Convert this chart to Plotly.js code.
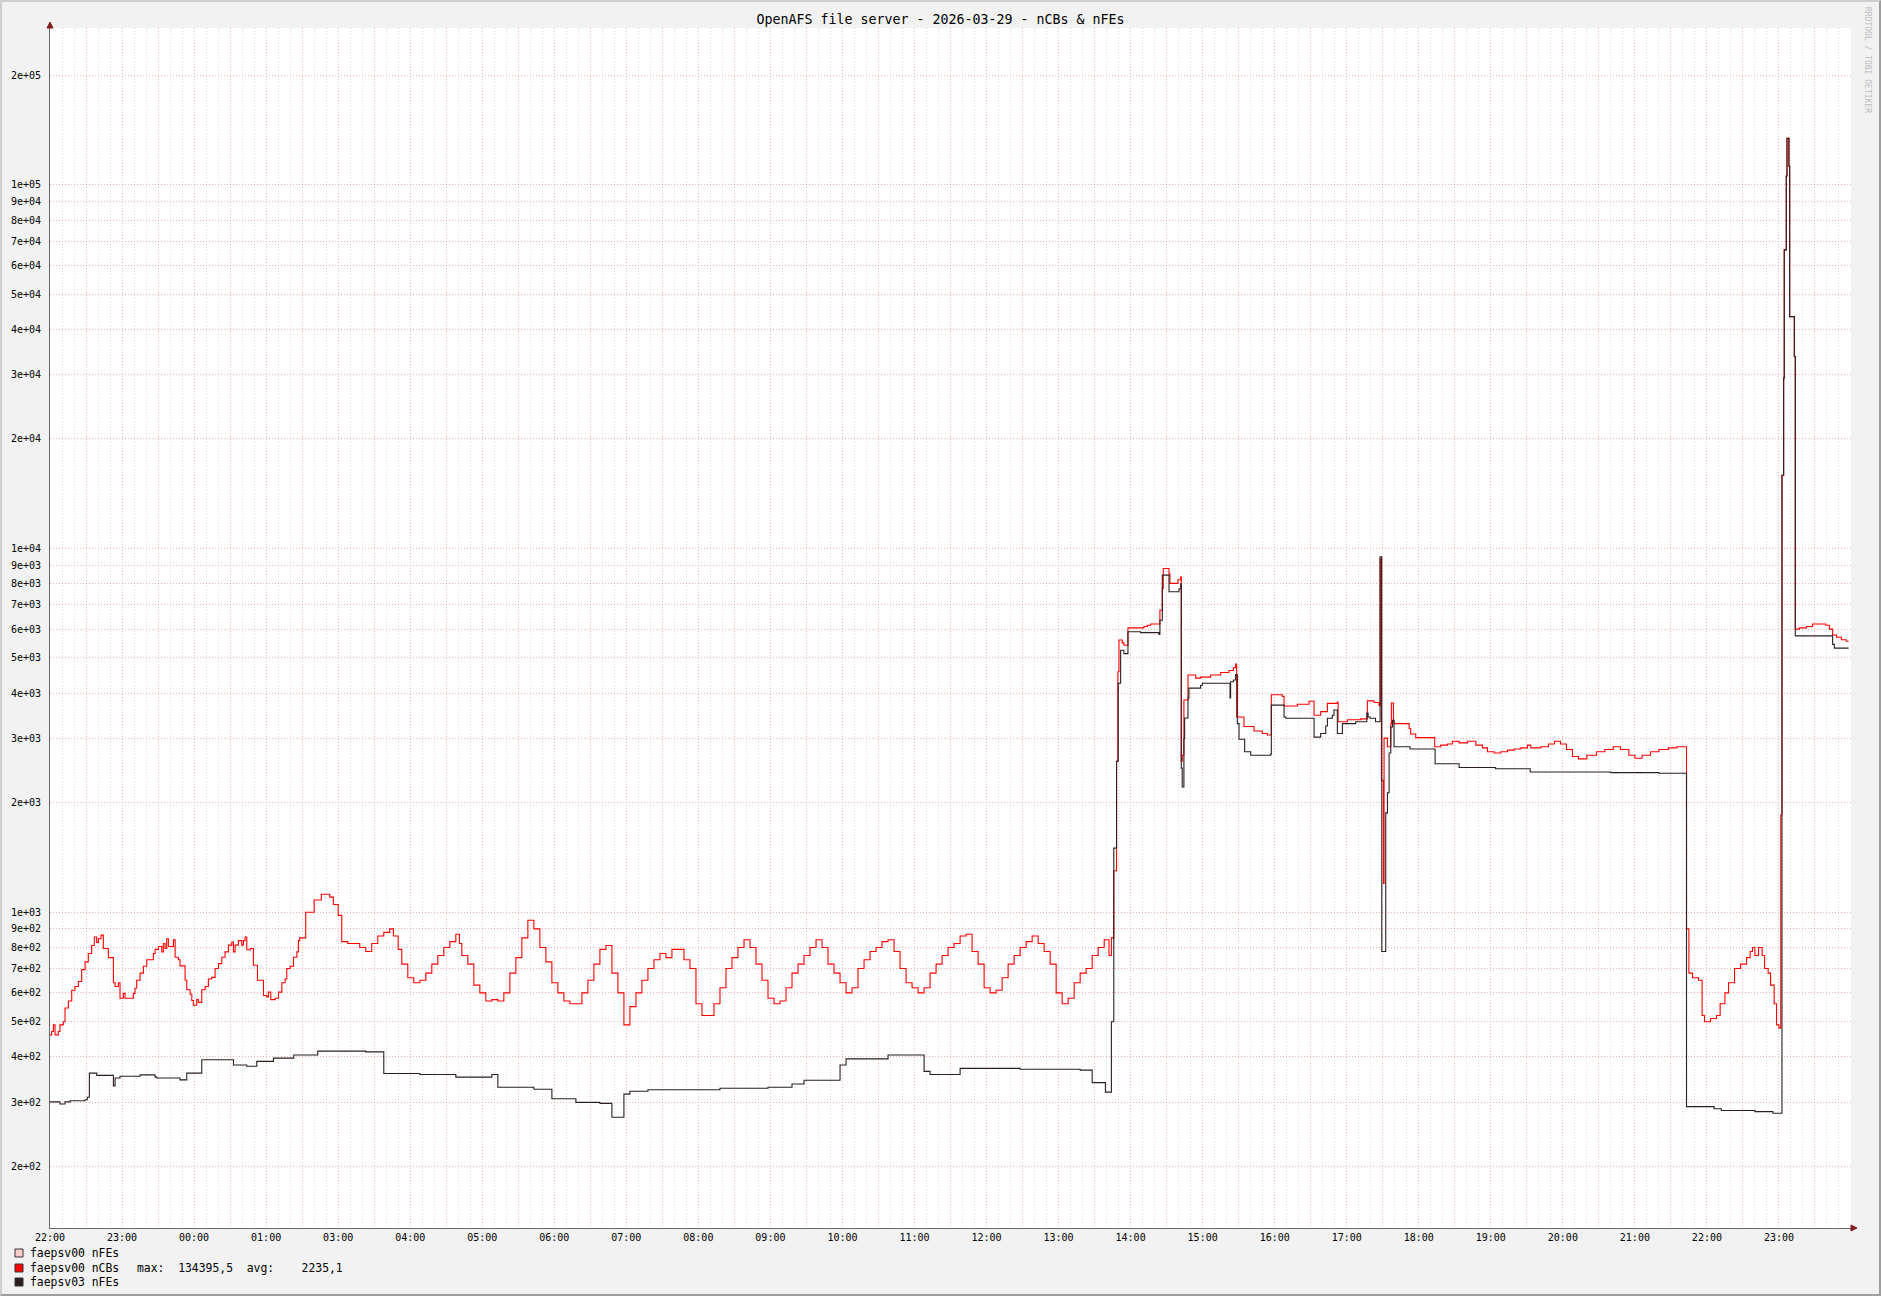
<!DOCTYPE html>
<html><head><meta charset="utf-8">
<script src="https://cdn.plot.ly/plotly-3.0.1.min.js"></script>
<style>
html,body{margin:0;padding:0;background:#f2f2f2;overflow:hidden}
#chart{position:absolute;left:0;top:0;width:1881px;height:1296px}
#frame{position:absolute;left:0;top:0;width:1881px;height:1296px;box-sizing:border-box;border-top:2px solid #cfcfcf;border-left:2px solid #cfcfcf;border-right:2px solid #9e9e9e;border-bottom:2px solid #9e9e9e;pointer-events:none}
</style></head>
<body><div id="chart"></div><div id="frame"></div>
<script>
// ---- data: time in minutes since 22:00 (2026-03-28 CET), values ----
const redT = [0,1.4,2.8,4.2,6.9,8.3,11.1,12.5,15.3,18.1,20.8,23.6,26.4,29.2,31.9,34.7,36.9,38.9,40.3,42.5,44.4,48.6,52.8,54.2,56.9,58.3,61.1,62.5,69.4,70.8,72.2,75,77.8,80.6,86.1,87.5,90.3,93.1,94.4,95.8,97.2,98.6,102.8,104.2,106.9,108.3,112.5,113.9,116.7,118.1,119.4,122.2,123.6,126.4,129.2,131.9,134.7,137.5,140.3,143.1,145.8,148.6,151.4,152.8,154.2,156.9,159.7,161.1,162.5,163.9,166.7,169.4,172.8,177.8,180.6,181.9,183.9,187.5,190.3,193.1,195.8,197.2,200,202.8,205.6,206.9,
208,213,220,226,233,236,240,243,248,258,263,268,273,278,283,286,290,293,298,303,308,313,318,323,328,333,338,341,343,348,353,358,363,368,373,378,383,388,393,398,403,408,413,418,423,428,433,438,443,448,453,458,463,468,473,478,483,488,493,498,503,508,513,518,523,528,533,538,543,548,553,558,563,568,573,578,583,588,593,598,603,608,613,618,623,628,633,638,643,648,653,658,663,668,673,678,683,688,693,698,703,708,713,718,723,728,733,738,743,748,753,758,763,768,773,778,783,788,793,798,803,808,813,818,823,828,833,838,843,848,853,858,863,868,873,878,882,884,886,
888.3,889.4,890.3,893,894.4,897.8,911.1,913.9,916.7,924.4,926.4,927.2,932,932.8,939.4,941.7,942.2,943,944.4,947.8,954.2,958.3,966.7,975,981.9,985.6,987.5,988.3,994.4,1002.8,1009.7,1013.9,1017.2,1026.4,1027.8,1038.9,1048.6,1052.8,1058.3,1063.9,1072.2,1072.8,1080.6,1091.7,1097.2,1102.8,1106.9,1107.8,1108.9,1110.6,1111.1,1113.9,1116.7,1117.2,1118.9,1119.4,1132,1133.3,1137.5,1153.3,1158.3,1163.9,1168,1173.6,1180.6,1187.5,1193,1197.2,1202.8,1208.3,1213.9,1219.4,1225,1230.6,1233.3,1241.7,1248,1253,1258,1263,1268,1273,1280,1288,1295,1302,1308,1315,1320,1326,1333,1340,1348,1355,1361,
1363,1365,1368,1373,1376,1378,1383,1388,1391,1395,1398,1403,1408,1413,1416,1418,1420,1423,1426,1428,1431,1433,1436,1438,1440,1441.5,1442.5,1443.9,1444.4,1446.1,1446.7,1448.3,1448.9,1452.8,1453.6,1457,1463,1468,1475,1479,1482,1484.7,1488,1492,1496,1498];
const redV = [460,470,490,460,470,490,500,545,570,610,625,645,695,730,770,810,855,825,845,865,795,750,640,625,640,580,598,580,598,618,650,680,710,740,770,790,805,778,820,795,845,805,840,752,740,712,650,612,595,572,555,575,565,612,625,655,662,700,722,752,778,812,828,778,812,835,812,835,855,788,795,715,650,590,585,603,575,580,603,640,655,700,710,752,778,835,
850,1000,1080,1120,1100,1050,980,830,820,800,780,820,860,880,900,860,790,720,660,640,650,680,720,760,800,830,870,820,760,720,630,600,570,575,570,600,680,750,850,950,900,800,730,640,600,570,560,560,600,650,720,790,810,680,600,490,550,600,650,700,740,770,750,790,790,740,700,560,520,520,560,620,700,750,800,840,800,720,650,580,560,570,620,680,720,760,800,840,800,720,680,640,600,620,700,740,780,800,830,840,780,700,640,620,600,620,680,720,760,800,820,860,870,780,720,620,600,610,660,720,760,800,830,860,820,780,720,600,560,580,640,680,700,760,800,840,760,850,1300,
2600,4580,5600,5500,5420,6050,6100,6150,6200,6760,7770,8810,8500,8020,8200,8360,2600,2700,3830,4490,4400,4430,4490,4560,4620,4700,4810,3440,3240,3150,3100,3070,3960,3920,3690,3730,3800,3480,3560,3750,3780,3340,3380,3400,3810,3770,3700,9380,2300,1200,3010,2850,3300,3760,3350,3300,3200,3090,3020,2850,2880,2900,2950,2920,2950,2880,2830,2760,2740,2760,2790,2810,2830,2880,2830,2850,2900,2950,2900,2800,2680,2640,2700,2760,2800,2850,2800,2700,2650,2700,2760,2800,2830,2850,2850,
900,680,660,650,520,500,510,520,560,600,640,700,720,750,780,800,760,800,760,700,680,630,560,490,480,1850,15900,29400,66200,105700,134395.5,112400,43400,33700,6000,6050,6100,6200,6200,6150,6000,5780,5700,5610,5560,5560];

const blkT = [0,8.3,12.5,16.7,29.2,31.1,32.8,38.9,52.8,54.2,58.3,75,87.5,88.9,108.3,113.9,126.4,152.8,163.9,172.2,186.1,203,223,263,278,308,338,368,373,403,418,438,458,468,478,483,498,558,598,618,628,658,663,698,728,733,758,808,858,868,879,884,886,
888.3,889.7,891.7,894.4,897.8,908.3,923.6,924.4,926.4,932,940.3,941.7,942.2,943,944.4,945,947.8,948.6,958.3,959.7,982.8,983.3,985.6,987.5,988.9,990.3,995,1000,1016.7,1017.2,1027.8,1029.2,1052.8,1058.3,1062.5,1063.9,1068,1069.4,1072.2,1076.4,1087.5,1096.7,1097.8,1099.4,1104,1107.8,1109.2,1112.5,1113.9,1115.3,1116.7,1118.1,1119.4,1132.8,1153.6,1173.6,1204,1232.8,1300,1340,
1363,1386,1392,1420,1435,1442.5,1443.9,1444.4,1446.1,1446.7,1448.3,1448.9,1452.8,1453.6,1484.7,1486.1,1498];
const blkV = [301,297,301,303,305,310,361,356,333,350,354,357,352,350,346,361,393,380,377,389,397,405,415,413,360,358,352,358,330,326,307,300,298,273,316,322,325,328,330,337,345,380,395,405,365,358,372,370,368,340,320,500,1500,
2600,4260,5250,5140,5900,5870,5800,6350,8450,7600,7750,8000,2490,2210,3000,3420,3880,4130,4200,4260,3880,4300,4350,4500,3300,2990,2760,2700,2720,3710,3440,3415,3030,3100,3250,3415,3480,3595,3100,3300,3340,3530,3440,3415,3340,9490,780,1875,2130,2740,3230,3370,2850,2810,2560,2500,2480,2430,2420,2410,
292,288,285,283,280,15900,29400,66200,105700,134000,112400,43400,33700,5750,5450,5320,5320];

// ---- axis labels ----
const hourLabels = ['22:00','23:00','00:00','01:00','03:00','04:00','05:00','06:00','07:00','08:00','09:00','10:00','11:00','12:00','13:00','14:00','15:00','16:00','17:00','18:00','19:00','20:00','21:00','22:00','23:00'];
const yTickVals = [200,300,400,500,600,700,800,900,1000,2000,3000,4000,5000,6000,7000,8000,9000,10000,20000,30000,40000,50000,60000,70000,80000,90000,100000,200000];
const yTickText = ['2e+02','3e+02','4e+02','5e+02','6e+02','7e+02','8e+02','9e+02','1e+03','2e+03','3e+03','4e+03','5e+03','6e+03','7e+03','8e+03','9e+03','1e+04','2e+04','3e+04','4e+04','5e+04','6e+04','7e+04','8e+04','9e+04','1e+05','2e+05'];

const legendNames = ['faepsv00 nFEs','faepsv00 nCBs','faepsv03 nFEs'];
const legendColors = ['#ffcccc','#ff0000','#2b1f1f'];
const statsText = 'max:  134395,5  avg:    2235,1';
const titleText = 'OpenAFS file server - 2026-03-29 - nCBs & nFEs';
const watermark = 'RRDTOOL / TOBI OETIKER';

// ---- layout geometry ----
const W = 1881, H = 1296;
const PL = 50, PR = 1851, PT = 28, PB = 1228;
const px = x => (x - PL) / (PR - PL);
const py = y => (PB - y) / (PB - PT);
const MONO = 'DejaVu Sans Mono, monospace';

const xTickVals = [], xTickText = [];
for (let m = 0; m < 1500; m += 30) {
  xTickVals.push(m);
  xTickText.push(m % 60 === 0 ? hourLabels[m / 60] : '');
}
const xMinor = [];
for (let m = 10; m < 1500; m += 10) if (m % 30 !== 0) xMinor.push(m);

const nb = s => s.replace(/ /g, '\u00a0');

const traces = [
  {x: redT, y: redV, type: 'scatter', mode: 'lines', line: {color: '#ff0000', width: 1.1, shape: 'hv'}, name: legendNames[1], hoverinfo: 'skip'},
  {x: blkT, y: blkV, type: 'scatter', mode: 'lines', line: {color: legendColors[2], width: 1.1, shape: 'hv'}, name: legendNames[2], hoverinfo: 'skip'}
];

const annotations = [];
const shapes = [];
const legY = [1253, 1268, 1282];
legendNames.forEach((n, i) => {
  shapes.push({type: 'rect', xref: 'paper', yref: 'paper',
    x0: px(15), x1: px(23), y0: py(legY[i] - 4), y1: py(legY[i] + 4),
    fillcolor: legendColors[i], line: {color: '#333', width: 1}});
  annotations.push({xref: 'paper', yref: 'paper', x: px(28), y: py(legY[i]), xanchor: 'left', yanchor: 'middle',
    text: nb(n), showarrow: false, font: {family: MONO, size: 11.4, color: '#000'}});
});
annotations.push({xref: 'paper', yref: 'paper', x: px(135), y: py(legY[1]), xanchor: 'left', yanchor: 'middle',
  text: nb(statsText), showarrow: false, font: {family: MONO, size: 11.4, color: '#000'}});
annotations.push({xref: 'paper', yref: 'paper', x: px(1867), y: py(60), xanchor: 'center', yanchor: 'middle',
  text: nb(watermark), textangle: 90, showarrow: false, font: {family: MONO, size: 8, color: '#bdbdbd'}});

// axis arrows
shapes.push({type: 'path', xref: 'paper', yref: 'paper', xsizemode: 'pixel', ysizemode: 'pixel',
  xanchor: 0, yanchor: 1, path: 'M -3 0 L 3 0 L 0 6 Z', fillcolor: '#801f1f', line: {color: '#801f1f', width: 1}});
shapes.push({type: 'path', xref: 'paper', yref: 'paper', xsizemode: 'pixel', ysizemode: 'pixel',
  xanchor: 1, yanchor: 0, path: 'M 0 -3 L 0 3 L 6 0 Z', fillcolor: '#801f1f', line: {color: '#801f1f', width: 1}});

const layout = {
  width: W, height: H, autosize: false,
  margin: {l: PL, r: W - PR, t: PT, b: H - PB, pad: 0},
  paper_bgcolor: '#f2f2f2', plot_bgcolor: '#ffffff',
  showlegend: false,
  title: {text: titleText, x: 0.5, xref: 'container', xanchor: 'center', y: 1 - 19 / H, yref: 'container', yanchor: 'middle',
    font: {family: MONO, size: 13.3, color: '#000'}},
  xaxis: {
    type: 'linear', range: [0, 1500], fixedrange: true, automargin: false,
    tickmode: 'array', tickvals: xTickVals, ticktext: xTickText,
    ticks: '', showgrid: true, gridcolor: 'rgba(222,79,79,0.4)', griddash: '1px,2px', gridwidth: 1,
    minor: {tickmode: 'array', tickvals: xMinor, showgrid: true, gridcolor: 'rgba(150,150,150,0.35)', griddash: '1px,2px', gridwidth: 1, ticks: ''},
    showline: true, linecolor: '#666', linewidth: 1, zeroline: false,
    tickfont: {family: MONO, size: 10, color: '#000'}, ticklabelstandoff: 0
  },
  yaxis: {
    type: 'log', range: [2.1317, 5.431], fixedrange: true, automargin: false,
    tickmode: 'array', tickvals: yTickVals, ticktext: yTickText,
    ticks: '', showgrid: true, gridcolor: 'rgba(222,79,79,0.45)', griddash: '1px,2px', gridwidth: 1,
    showline: true, linecolor: '#666', linewidth: 1, zeroline: false,
    tickfont: {family: MONO, size: 10, color: '#000'}, ticklabelstandoff: 6
  },
  annotations: annotations,
  shapes: shapes
};

Plotly.newPlot('chart', traces, layout, {staticPlot: true, displayModeBar: false});
</script>
</body></html>
